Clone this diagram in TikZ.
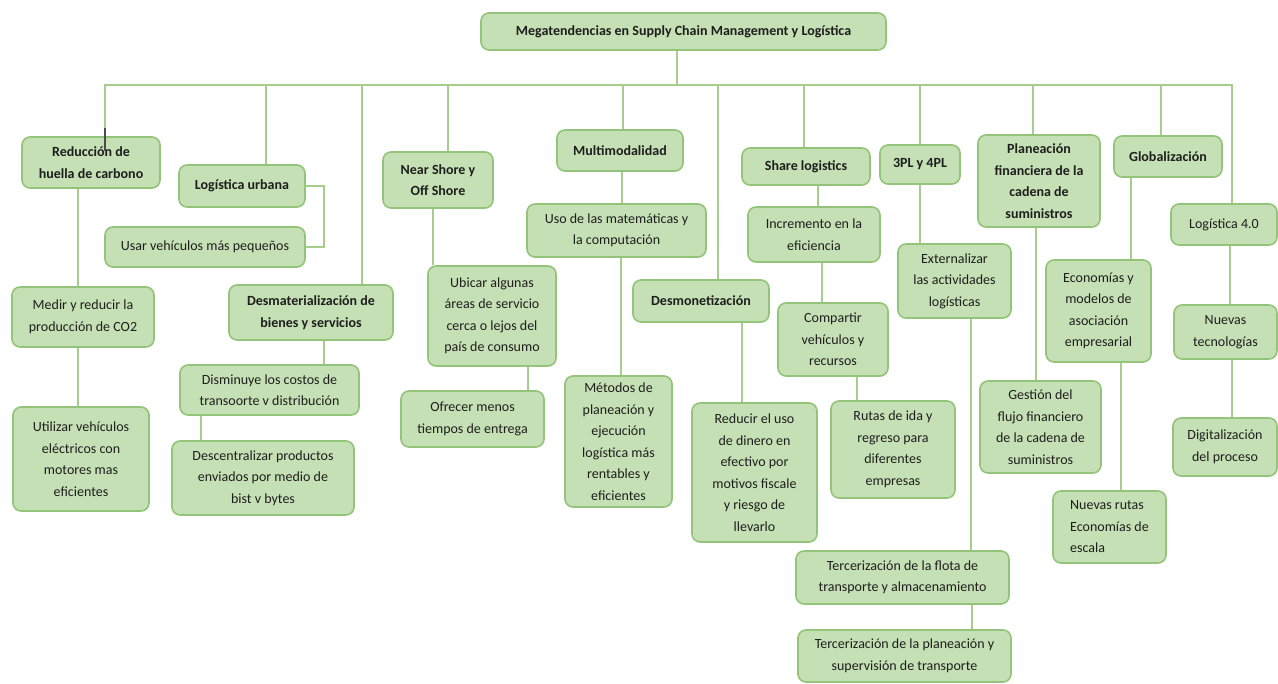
\documentclass[tikz,border=0pt]{standalone}
\usepackage{fontspec}
\setmainfont{Carlito}
\usetikzlibrary{backgrounds}
\definecolor{boxfill}{HTML}{C5E0B4}
\definecolor{boxline}{HTML}{93C47A}
\definecolor{linkcol}{HTML}{A6CD8C}
\definecolor{txt}{HTML}{1E1E1E}
\begin{document}
\begin{tikzpicture}[x=1pt,y=-1pt,
  box/.style={draw=boxline, fill=boxfill, rounded corners=8pt, line width=1.6pt,
    align=center, inner sep=2pt, text=txt, font=\fontsize{14}{21.5}\selectfont},
  hd/.style={box, font=\bfseries\fontsize{14}{21.5}\selectfont},
  size/.style 2 args={minimum width=#1pt, minimum height=#2pt},
  link/.style={draw=linkcol, line width=1.5pt},
  stub/.style={draw=black!70, line width=1.2pt}]
\useasboundingbox (0,0) rectangle (1278,684);

% title
\node[hd, size={405}{37}] (root) at (683.5,31.5) {Megatendencias en Supply Chain Management y Logística};

% first level
\node[hd, size={138}{51}] (red) at (91,162.5) {Reducción de\\huella de carbono};
\node[hd, size={126}{42}] (lurb) at (242,186) {Logística urbana};
\node[hd, size={164}{55}] (desmat) at (311,312.5) {Desmaterialización de\\bienes y servicios};
\node[hd, size={110}{56}] (near) at (438,180) {Near Shore y\\Off Shore};
\node[hd, size={126}{41}] (multi) at (620,150.5) {Multimodalidad};
\node[hd, size={136}{42}] (desmon) at (701,301) {Desmonetización};
\node[hd, size={128}{37}] (share) at (806,166.5) {Share logistics};
\node[hd, size={80}{39}] (tpl) at (920,164.5) {3PL y 4PL};
\node[hd, size={122}{92}] (plan) at (1039,181) {Planeación\\financiera de la\\cadena de\\suministros};
\node[hd, size={108}{41}] (glob) at (1168,156.5) {Globalización};
\node[box, size={106}{41}] (l40) at (1224,224.5) {Logística 4.0};

% second and third level
\node[box, size={200}{40}] (usar) at (205,247) {Usar vehículos más pequeños};
\node[box, size={142}{60}] (medir) at (83,317) {Medir y reducir la\\producción de CO2};
\node[box, size={136}{104}] (util) at (81,459) {Utilizar vehículos\\eléctricos con\\motores mas\\eficientes};
\node[box, size={179}{50}] (dism) at (269.5,390) {Disminuye los costos de\\transoorte v distribución};
\node[box, size={182}{74}] (desc) at (263,478) {Descentralizar productos\\enviados por medio de\\bist v bytes};
\node[box, size={128}{100}] (ubicar) at (492,316) {Ubicar algunas\\áreas de servicio\\cerca o lejos del\\país de consumo};
\node[box, size={143}{56}] (ofre) at (472.5,419) {Ofrecer menos\\tiempos de entrega};
\node[box, size={179}{53}] (uso) at (616.5,230.5) {Uso de las matemáticas y\\la computación};
\node[box, size={107}{131}] (meto) at (618.5,441.5) {Métodos de\\planeación y\\ejecución\\logística más\\rentables y\\eficientes};
\node[box, size={125}{139}] (reduc) at (754.5,472.5) {Reducir el uso\\de dinero en\\efectivo por\\motivos fiscale\\y riesgo de\\llevarlo};
\node[box, size={132}{55}] (incr) at (814,234.5) {Incremento en la\\eficiencia};
\node[box, size={110}{73}] (comp) at (833,339.5) {Compartir\\vehículos y\\recursos};
\node[box, size={124}{97}] (rutas) at (893,449.5) {Rutas de ida y\\regreso para\\diferentes\\empresas};
\node[box, size={113}{74}] (ext) at (954.5,281) {Externalizar\\las actividades\\logísticas};
\node[box, size={213}{53}] (terf) at (902.5,577.5) {Tercerización de la flota de\\transporte y almacenamiento};
\node[box, size={213}{52}] (terp) at (904.5,656) {Tercerización de la planeación y\\supervisión de transporte};
\node[box, size={121}{92}] (gest) at (1040.5,427) {Gestión del\\flujo financiero\\de la cadena de\\suministros};
\node[box, size={105}{102}] (econ) at (1098.5,311) {Economías y\\modelos de\\asociación\\empresarial};
\node[box, size={113}{72}, align=left] (nrut) at (1109.5,527) {Nuevas rutas\\Economías de\\escala};
\node[box, size={103}{54}] (ntec) at (1225.5,332) {Nuevas\\tecnologías};
\node[box, size={104}{58}] (digi) at (1225,447) {Digitalización\\del proceso};

\coordinate (hub) at (677,85);

\begin{scope}[on background layer]
  \fill[white] (0,0) rectangle (1278,684);
  % trunk and branches of the tree
  \draw[link] (root.south -| hub) -- (hub);
  \draw[link] (hub) -| (red.north -| 105,0);
  \draw[link] (hub) -| (lurb.north -| 266,0);
  \draw[link] (hub) -| (desmat.north -| 362,0);
  \draw[link] (hub) -| (near.north -| 448,0);
  \draw[link] (hub) -| (multi.north -| 623,0);
  \draw[link] (hub) -| (desmon.north -| 718,0);
  \draw[link] (hub) -| (share.north -| 804,0);
  \draw[link] (hub) -| (tpl.north -| 920,0);
  \draw[link] (hub) -| (plan.north -| 1033,0);
  \draw[link] (hub) -| (glob.north -| 1161,0);
  \draw[link] (hub) -| (l40.north -| 1232,0);
  % sub-branches
  \draw[link] (lurb.east) -- ++(18,0) |- (usar.east);
  \draw[link] (red.south -| 78,0) -- (medir.north -| 78,0);
  \draw[link] (medir.south -| 78,0) -- (util.north -| 78,0);
  \draw[link] (desmat.south -| 324,0) -- (dism.north -| 324,0);
  \draw[link] (dism.south -| 201,0) -- (desc.north -| 201,0);
  \draw[link] (near.south -| 433,0) -- (ubicar.north -| 433,0);
  \draw[link] (ubicar.south -| 528,0) -- (ofre.north -| 528,0);
  \draw[link] (multi.south -| 622,0) -- (uso.north -| 622,0);
  \draw[link] (uso.south -| 621,0) -- (meto.north -| 621,0);
  \draw[link] (desmon.south -| 742,0) -- (reduc.north -| 742,0);
  \draw[link] (share.south -| 818,0) -- (incr.north -| 818,0);
  \draw[link] (incr.south -| 822,0) -- (comp.north -| 822,0);
  \draw[link] (comp.south -| 857,0) -- (rutas.north -| 857,0);
  \draw[link] (tpl.south -| 920,0) -- (ext.north -| 920,0);
  \draw[link] (ext.south -| 971,0) -- (terf.north -| 971,0);
  \draw[link] (terf.south -| 972,0) -- (terp.north -| 972,0);
  \draw[link] (plan.south -| 1036,0) -- (gest.north -| 1036,0);
  \draw[link] (glob.south -| 1131,0) -- (econ.north -| 1131,0);
  \draw[link] (econ.south -| 1121,0) -- (nrut.north -| 1121,0);
  \draw[link] (l40.south -| 1230,0) -- (ntec.north -| 1230,0);
  \draw[link] (ntec.south -| 1232,0) -- (digi.north -| 1232,0);
\end{scope}

% dark tail of the first branch reaching into its box
\draw[stub] (red.north -| 105,0) ++(0,-8) -- ++(0,23);
\end{tikzpicture}
\end{document}
